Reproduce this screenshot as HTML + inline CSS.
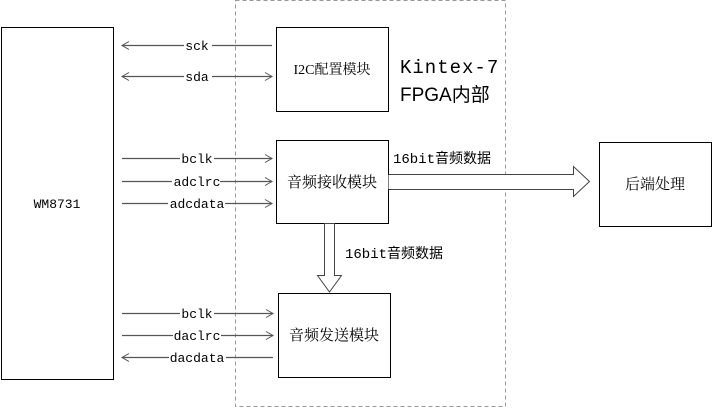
<!DOCTYPE html>
<html><head><meta charset="utf-8"><style>
body{margin:0;background:#fff;}
svg{display:block;font-family:"Liberation Serif","Noto Serif CJK SC","Noto Sans CJK SC",serif;}
.l{font-size:13px;fill:#000;}
</style></head><body>
<svg width="713" height="408" viewBox="0 0 713 408" xmlns="http://www.w3.org/2000/svg">
<defs>
<marker id="a" markerWidth="10" markerHeight="10" refX="8" refY="5" orient="auto" markerUnits="userSpaceOnUse">
<path d="M1,1 L8,5 L1,9" fill="none" stroke="#555" stroke-width="1"/>
</marker>
<marker id="b" markerWidth="10" markerHeight="10" refX="2" refY="5" orient="auto" markerUnits="userSpaceOnUse">
<path d="M9,1 L2,5 L9,9" fill="none" stroke="#555" stroke-width="1"/>
</marker>
</defs>
<rect x="235.5" y="0.5" width="270" height="406" fill="none" stroke="#999" stroke-dasharray="4,3"/>
<rect x="1.5" y="27.5" width="112" height="352" fill="none" stroke="#000"/>
<text x="57" y="208" class="l" text-anchor="middle" font-family="Liberation Mono,monospace">WM8731</text>
<rect x="276.5" y="27.5" width="112" height="84" fill="#fff" stroke="#000"/>
<text x="332" y="74" font-size="14" text-anchor="middle">I2C配置模块</text>
<rect x="276.5" y="140.5" width="112" height="83" fill="#fff" stroke="#000"/>
<text x="332" y="187" font-size="15" text-anchor="middle">音频接收模块</text>
<rect x="278.5" y="293.5" width="112" height="84" fill="#fff" stroke="#000"/>
<text x="334" y="340" font-size="15" text-anchor="middle">音频发送模块</text>
<rect x="599.5" y="142.5" width="112" height="84" fill="#fff" stroke="#000"/>
<text x="655" y="189" font-size="15" text-anchor="middle">后端处理</text>
<text x="400" y="73" font-size="19" fill="#000" font-family="Liberation Mono,Noto Sans CJK SC,monospace" letter-spacing="1">Kintex-7</text>
<text x="400" y="101" font-size="19" fill="#000" font-family="Liberation Sans Narrow,Liberation Sans,Noto Sans CJK SC,sans-serif">FPGA内部</text>
<g stroke="#555" stroke-width="1.2" fill="none">
<line x1="272" y1="45.5" x2="122" y2="45.5" marker-end="url(#a)"/>
<line x1="122" y1="76.5" x2="272" y2="76.5" marker-start="url(#b)" marker-end="url(#a)"/>
<line x1="122" y1="158.5" x2="272" y2="158.5" marker-end="url(#a)"/>
<line x1="122" y1="181.5" x2="272" y2="181.5" marker-end="url(#a)"/>
<line x1="122" y1="203.5" x2="272" y2="203.5" marker-end="url(#a)"/>
<line x1="122" y1="313.5" x2="273" y2="313.5" marker-end="url(#a)"/>
<line x1="122" y1="335.5" x2="273" y2="335.5" marker-end="url(#a)"/>
<line x1="273" y1="357.5" x2="122" y2="357.5" marker-end="url(#a)"/>
</g>
<g class="l" text-anchor="middle" font-family="Liberation Mono,monospace" font-size="13">
<rect x="184" y="38" width="28" height="14" fill="#fff"/><text x="197" y="50">sck</text>
<rect x="184" y="69" width="28" height="14" fill="#fff"/><text x="197" y="81">sda</text>
<rect x="180" y="151" width="34" height="14" fill="#fff"/><text x="197" y="163">bclk</text>
<rect x="172" y="174" width="48" height="14" fill="#fff"/><text x="197" y="186">adclrc</text>
<rect x="168" y="196" width="57" height="14" fill="#fff"/><text x="197" y="208">adcdata</text>
<rect x="180" y="306" width="34" height="14" fill="#fff"/><text x="197" y="318">bclk</text>
<rect x="173" y="328" width="48" height="14" fill="#fff"/><text x="197" y="340">daclrc</text>
<rect x="169" y="350" width="57" height="14" fill="#fff"/><text x="197" y="362">dacdata</text>
</g>
<path d="M388.5,174.5 L573.5,174.5 L573.5,166.5 L589.5,181.5 L573.5,196.5 L573.5,189.5 L388.5,189.5" fill="#fff" stroke="#444"/>
<path d="M324.5,223.5 L324.5,275.5 L317.5,275.5 L329.5,292 L341.5,275.5 L334.5,275.5 L334.5,223.5 Z" fill="#fff" stroke="#444"/>
<text x="393" y="163" font-size="14" fill="#000" font-family="Liberation Mono,Noto Sans CJK SC,monospace">16bit音频数据</text>
<text x="345" y="258" font-size="14" fill="#000" font-family="Liberation Mono,Noto Sans CJK SC,monospace">16bit音频数据</text>
</svg>
</body></html>
